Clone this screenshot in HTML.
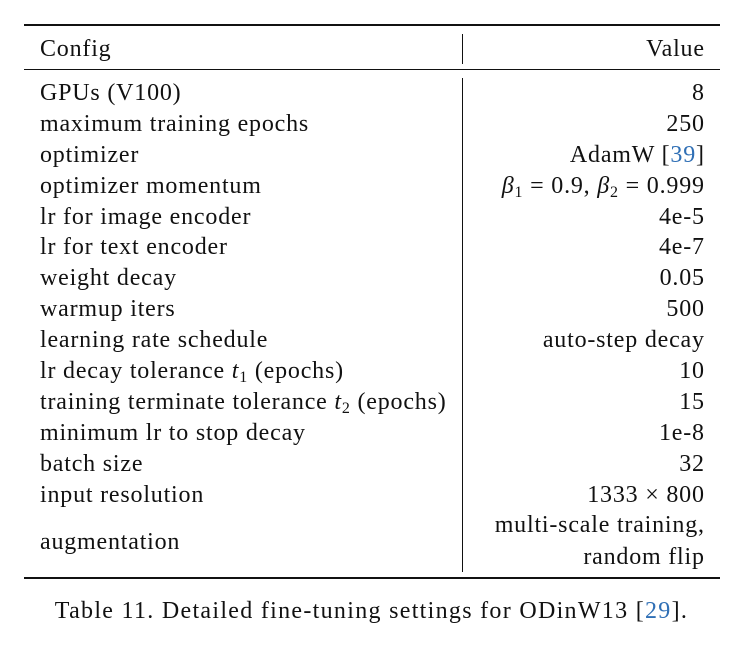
<!DOCTYPE html>
<html><head><meta charset="utf-8"><style>
body{margin:0;width:743px;height:645px;background:#fff;font-family:"Liberation Serif","Times New Roman",serif;color:#111;position:relative;overflow:hidden}
.r{position:absolute;left:24px;width:696px;background:#111}
.t{position:absolute;font-size:24px;line-height:26px;letter-spacing:0.8px;white-space:nowrap}
.l{left:40px}
.v{right:39px;text-align:right;margin-right:-0.8px}
.vl{position:absolute;left:462px;width:1px;background:#111}
.c{color:#2f6fb5}
i{font-style:italic}
sub{font-size:16px;vertical-align:-4px;line-height:0}
</style></head><body>
<div class="r" style="top:24px;height:2px"></div>
<div class="r" style="top:69px;height:1px"></div>
<div class="r" style="top:577px;height:2px"></div>
<div class="vl" style="top:34px;height:30px"></div>
<div class="vl" style="top:78px;height:494px"></div>
<div class="t l" style="top:36px">Config</div>
<div class="t v" style="top:36px">Value</div>
<div>
<div class="t l" style="top:80px">GPUs (V100)</div><div class="t v" style="top:80px">8</div>
<div class="t l" style="top:111px">maximum training epochs</div><div class="t v" style="top:111px">250</div>
<div class="t l" style="top:142px">optimizer</div><div class="t v" style="top:142px">AdamW [<span class="c">39</span>]</div>
<div class="t l" style="top:173px">optimizer momentum</div><div class="t v" style="top:173px"><i>β</i><sub>1</sub> = 0.9, <i>β</i><sub>2</sub> = 0.999</div>
<div class="t l" style="top:204px">lr for image encoder</div><div class="t v" style="top:204px">4e-5</div>
<div class="t l" style="top:234px">lr for text encoder</div><div class="t v" style="top:234px">4e-7</div>
<div class="t l" style="top:265px">weight decay</div><div class="t v" style="top:265px">0.05</div>
<div class="t l" style="top:296px">warmup iters</div><div class="t v" style="top:296px">500</div>
<div class="t l" style="top:327px">learning rate schedule</div><div class="t v" style="top:327px">auto-step decay</div>
<div class="t l" style="top:358px">lr decay tolerance <i>t</i><sub>1</sub> (epochs)</div><div class="t v" style="top:358px">10</div>
<div class="t l" style="top:389px">training terminate tolerance <i>t</i><sub>2</sub> (epochs)</div><div class="t v" style="top:389px">15</div>
<div class="t l" style="top:420px">minimum lr to stop decay</div><div class="t v" style="top:420px">1e-8</div>
<div class="t l" style="top:451px">batch size</div><div class="t v" style="top:451px">32</div>
<div class="t l" style="top:482px">input resolution</div><div class="t v" style="top:482px">1333 × 800</div>
<div class="t l" style="top:529px">augmentation</div><div class="t v" style="top:512px">multi-scale training,</div>
<div class="t v" style="top:544px">random flip</div>
</div>
<div class="t" style="top:598px;left:0;width:743px;text-align:center;font-size:24px;letter-spacing:1.3px">Table 11. Detailed fine-tuning settings for ODinW13 [<span class="c">29</span>].</div>
</body></html>
